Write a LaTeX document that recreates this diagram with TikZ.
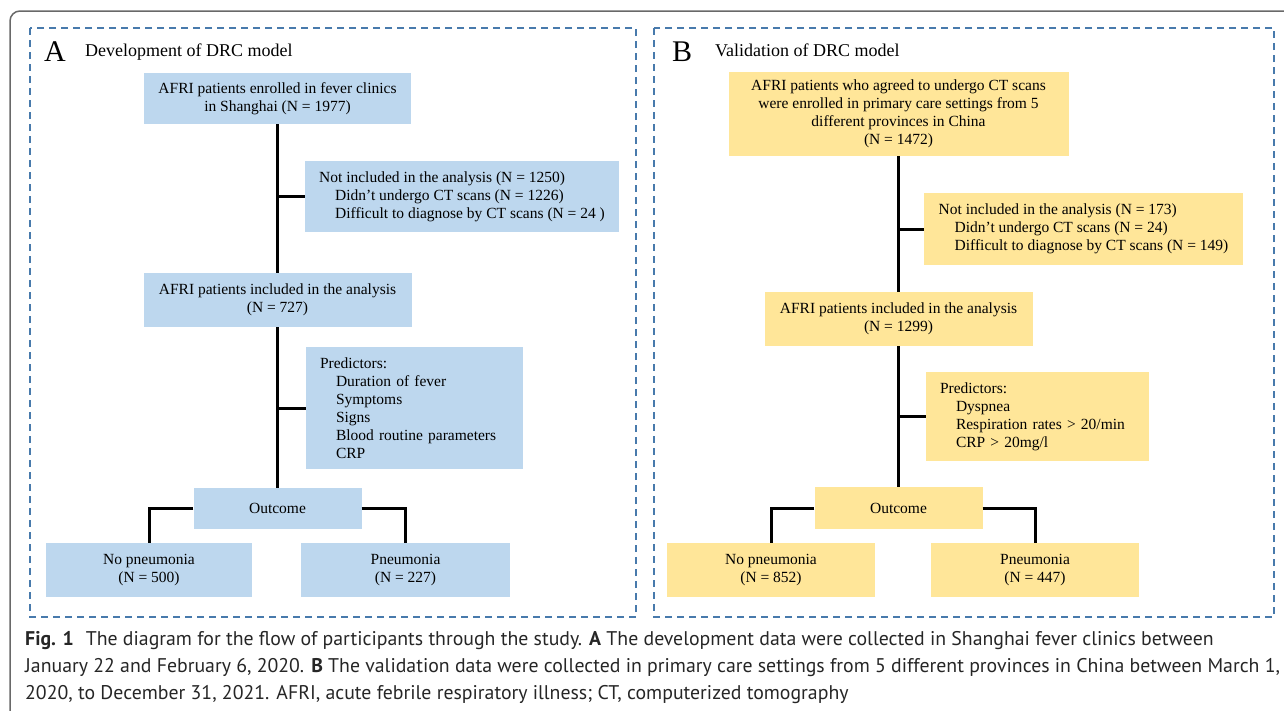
\documentclass[tikz,border=0pt]{standalone}
\usepackage{fontspec}
\setmainfont{Liberation Serif}
\newfontfamily\capfont{PT Sans}
\usetikzlibrary{positioning}
\definecolor{boxblue}{RGB}{189,215,238}
\definecolor{boxyellow}{RGB}{255,230,153}
\definecolor{dashblue}{RGB}{72,122,172}
\definecolor{framegray}{RGB}{105,105,105}
\newcommand{\ind}{\hspace*{16pt}}

\begin{document}
\begin{tikzpicture}[x=1pt,y=-1pt,
  every node/.style={inner sep=0pt},
  block/.style={inner sep=0pt, align=center, font=\fontsize{15.5}{18}\selectfont},
  blockA/.style={block, fill=boxblue},
  blockB/.style={block, fill=boxyellow},
  listed/.style={align=left, inner xsep=14pt},
  link/.style={line width=3pt, black},
  panel/.style={draw=dashblue, line width=1.3pt, dash pattern=on 7pt off 5pt},
  paneltag/.style={anchor=base west, font=\fontsize{30}{30}\selectfont},
  paneltitle/.style={anchor=base west, font=\fontsize{18}{20}\selectfont},
  capline/.style={anchor=base west, font=\capfont\fontsize{19.8}{22}\selectfont, text=black!85}]
\useasboundingbox (0,0) rectangle (1284,710);
\clip (0,0) rectangle (1284,710);
\draw [framegray, line width=1.5pt, rounded corners=10pt] (10,11) rectangle (1320,740);
\draw [panel] (30,28) rectangle (636,617);
\draw [panel] (654,28) rectangle (1274,617);

\node [paneltag] (tagA) at (44,61) {A};
\node [paneltitle] (titleA) at (85,56) {Development of DRC model};
\node [paneltag] (tagB) at (672,61) {B};
\node [paneltitle] (titleB) at (715,56) {Validation of DRC model};

\node [blockA, minimum width=267, minimum height=51] (enrolA) at (277.5,98.5)
  {AFRI patients enrolled in fever clinics\\in Shanghai (N = 1977)};
\node [blockA, listed, minimum width=314, minimum height=71] (exclA) at (462,196.5)
  {Not included in the analysis (N = 1250)\\
   \ind Didn’t undergo CT scans (N = 1226)\\
   \ind Difficult to diagnose by CT scans (N = 24 )};
\node [blockA, minimum width=268, minimum height=54] (inclA) at (277.5,300)
  {AFRI patients included in the analysis\\(N = 727)};
\node [blockA, listed, text width=189, minimum height=122] (predA) at (414.5,408)
  {Predictors:\\
   \ind Duration of fever\\
   \ind Symptoms\\
   \ind Signs\\
   \ind Blood routine parameters\\
   \ind CRP};
\node [blockA, minimum width=168, minimum height=41] (outA) at (277.5,508.5) {Outcome};
\node [blockA, minimum width=206, minimum height=54] (noA) at (149,570)
  {No pneumonia\\(N = 500)};
\node [blockA, minimum width=209, minimum height=54] (yesA) at (405.5,570)
  {Pneumonia\\(N = 227)};

\draw [link] (enrolA.south) -- (inclA.north);
\draw [link] (inclA.south) -- (outA.north);
\draw [link] (exclA.west) -- (exclA.west -| enrolA.south);
\draw [link] (predA.west) -- (predA.west -| inclA.south);
\draw [link] (outA.west) -| (noA.north);
\draw [link] (outA.east) -| (yesA.north);

\node [blockB, minimum width=340, minimum height=84] (enrolB) at (898.5,114)
  {AFRI patients who agreed to undergo CT scans\\
   were enrolled in primary care settings from 5\\
   different provinces in China\\(N = 1472)};
\node [blockB, listed, minimum width=319, minimum height=72] (exclB) at (1083.5,229)
  {Not included in the analysis (N = 173)\\
   \ind Didn’t undergo CT scans (N = 24)\\
   \ind Difficult to diagnose by CT scans (N = 149)};
\node [blockB, minimum width=268, minimum height=54] (inclB) at (898.5,319)
  {AFRI patients included in the analysis\\(N = 1299)};
\node [blockB, listed, text width=195, minimum height=89] (predB) at (1037.5,416.5)
  {Predictors:\\
   \ind Dyspnea\\
   \ind Respiration rates > 20/min\\
   \ind CRP > 20mg/l};
\node [blockB, minimum width=168, minimum height=42] (outB) at (898.5,508) {Outcome};
\node [blockB, minimum width=208, minimum height=54] (noB) at (771,570)
  {No pneumonia\\(N = 852)};
\node [blockB, minimum width=208, minimum height=54] (yesB) at (1035,570)
  {Pneumonia\\(N = 447)};

\draw [link] (enrolB.south) -- (inclB.north);
\draw [link] (inclB.south) -- (outB.north);
\draw [link] (exclB.west) -- (exclB.west -| enrolB.south);
\draw [link] (predB.west) -- (predB.west -| inclB.south);
\draw [link] (outB.west) -| (noB.north);
\draw [link] (outB.east) -| (yesB.north);

\node [capline] (cap1) at (25,645) {\textbf{Fig. 1}\hspace{0.6em}The diagram for the flow of participants through the study. \textbf{A} The development data were collected in Shanghai fever clinics between};
\node [capline] (cap2) at (25,672) {January 22 and February 6, 2020. \textbf{B} The validation data were collected in primary care settings from 5 different provinces in China between March 1,};
\node [capline] (cap3) at (25,699) {2020, to December 31, 2021. AFRI, acute febrile respiratory illness; CT, computerized tomography};
\end{tikzpicture}
\end{document}
